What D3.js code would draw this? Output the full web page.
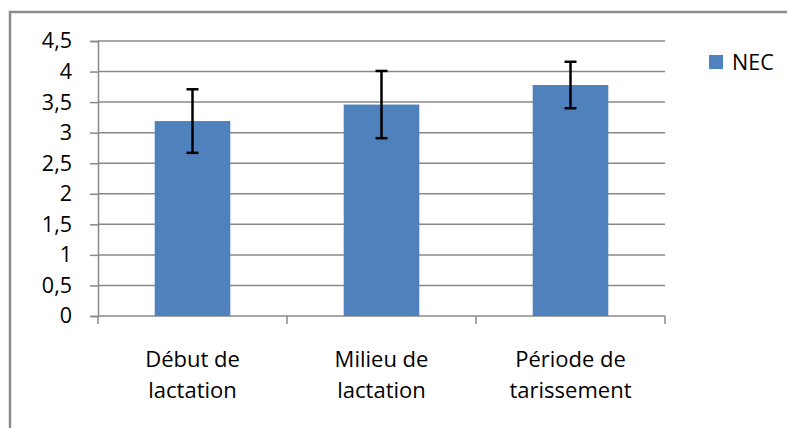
<!DOCTYPE html>
<html>
<head>
<meta charset="utf-8">
<script src="https://cdn.jsdelivr.net/npm/d3@7"></script>
<style>
  body { margin: 0; background: #fff; }
  text { font-family: "Open Sans", sans-serif; fill: #000; }
</style>
</head>
<body>
<div id="chart"></div>
<script>
var categories = [["Début de", "lactation"], ["Milieu de", "lactation"], ["Période de", "tarissement"]];
var values = [3.19, 3.46, 3.78];
var errors = [0.52, 0.55, 0.38];
var yTicks = [0, 0.5, 1, 1.5, 2, 2.5, 3, 3.5, 4, 4.5];
var seriesName = "NEC";

const width = 787;
const height = 428;
const plot = {left: 98, right: 665, top: 41, bottom: 316};

const svg = d3.select("#chart").append("svg")
    .attr("width", width)
    .attr("height", height);

// outer chart border (right/bottom edges fall outside the picture)
svg.append("rect")
    .attr("x", 10).attr("y", 12)
    .attr("width", 900).attr("height", 600)
    .attr("fill", "none")
    .attr("stroke", "#8c8c8c")
    .attr("stroke-width", 2.5);

var x = d3.scaleBand()
    .domain(d3.range(categories.length))
    .range([plot.left, plot.right])
    .paddingInner(0.6)
    .paddingOuter(0.3);

var y = d3.scaleLinear()
    .domain([0, 4.5])
    .range([plot.bottom, plot.top]);

// gridlines
svg.append("g")
    .selectAll("line")
    .data(yTicks.filter(d => d > 0))
    .enter().append("line")
    .attr("x1", plot.left).attr("x2", plot.right)
    .attr("y1", d => y(d)).attr("y2", d => y(d))
    .attr("stroke", "#888")
    .attr("stroke-width", 1.5);

// y axis
const yAxis = svg.append("g")
    .attr("transform", `translate(${plot.left},0)`)
    .call(d3.axisLeft(y).tickValues(yTicks).tickSize(8).tickPadding(18)
        .tickFormat(d => String(d).replace(".", ",")));
yAxis.select(".domain").attr("stroke", "#888").attr("stroke-width", 1.5);
yAxis.selectAll(".tick line").attr("stroke", "#888").attr("stroke-width", 1.5);
yAxis.selectAll("text")
    .attr("font-size", 21.5)
    .attr("font-family", "'Open Sans', sans-serif")
    .attr("fill", "#000");

// x axis line with ticks between categories
const xb = svg.append("g");
xb.append("line")
    .attr("x1", plot.left).attr("x2", plot.right)
    .attr("y1", plot.bottom).attr("y2", plot.bottom)
    .attr("stroke", "#888").attr("stroke-width", 1.5);
const bounds = d3.range(categories.length + 1).map(i => plot.left + i * x.step());
xb.selectAll("line.tk")
    .data(bounds)
    .enter().append("line")
    .attr("class", "tk")
    .attr("x1", d => d).attr("x2", d => d)
    .attr("y1", plot.bottom).attr("y2", plot.bottom + 8)
    .attr("stroke", "#888").attr("stroke-width", 1.5);

// bars
svg.append("g")
    .selectAll("rect")
    .data(values)
    .enter().append("rect")
    .attr("x", (d, i) => x(i))
    .attr("width", x.bandwidth())
    .attr("y", d => y(d))
    .attr("height", d => y(0) - y(d))
    .attr("fill", "#4f81bd");

// error bars
const eb = svg.append("g")
    .selectAll("g")
    .data(values)
    .enter().append("g")
    .attr("stroke", "#000")
    .attr("stroke-width", 2.5);
eb.append("line")
    .attr("x1", (d, i) => x(i) + x.bandwidth() / 2)
    .attr("x2", (d, i) => x(i) + x.bandwidth() / 2)
    .attr("y1", (d, i) => y(d + errors[i]))
    .attr("y2", (d, i) => y(d - errors[i]));
[1, -1].forEach(s => {
    eb.append("line")
        .attr("x1", (d, i) => x(i) + x.bandwidth() / 2 - 6)
        .attr("x2", (d, i) => x(i) + x.bandwidth() / 2 + 6)
        .attr("y1", (d, i) => y(d + s * errors[i]))
        .attr("y2", (d, i) => y(d + s * errors[i]));
});

// category labels
svg.append("g")
    .selectAll("text")
    .data(categories)
    .enter().append("text")
    .attr("text-anchor", "middle")
    .attr("font-size", 22)
    .attr("transform", (d, i) => `translate(${x(i) + x.bandwidth() / 2},367)`)
    .selectAll("tspan")
    .data(d => d)
    .enter().append("tspan")
    .attr("x", 0)
    .attr("dy", (d, j) => j === 0 ? 0 : 31)
    .text(d => d);

// legend
const lg = svg.append("g").attr("transform", "translate(709,55)");
lg.append("rect")
    .attr("width", 14).attr("height", 14)
    .attr("fill", "#4f81bd");
lg.append("text")
    .attr("x", 23).attr("y", 7)
    .attr("dy", "0.35em")
    .attr("font-size", 21.5)
    .text(seriesName);
</script>
</body>
</html>
